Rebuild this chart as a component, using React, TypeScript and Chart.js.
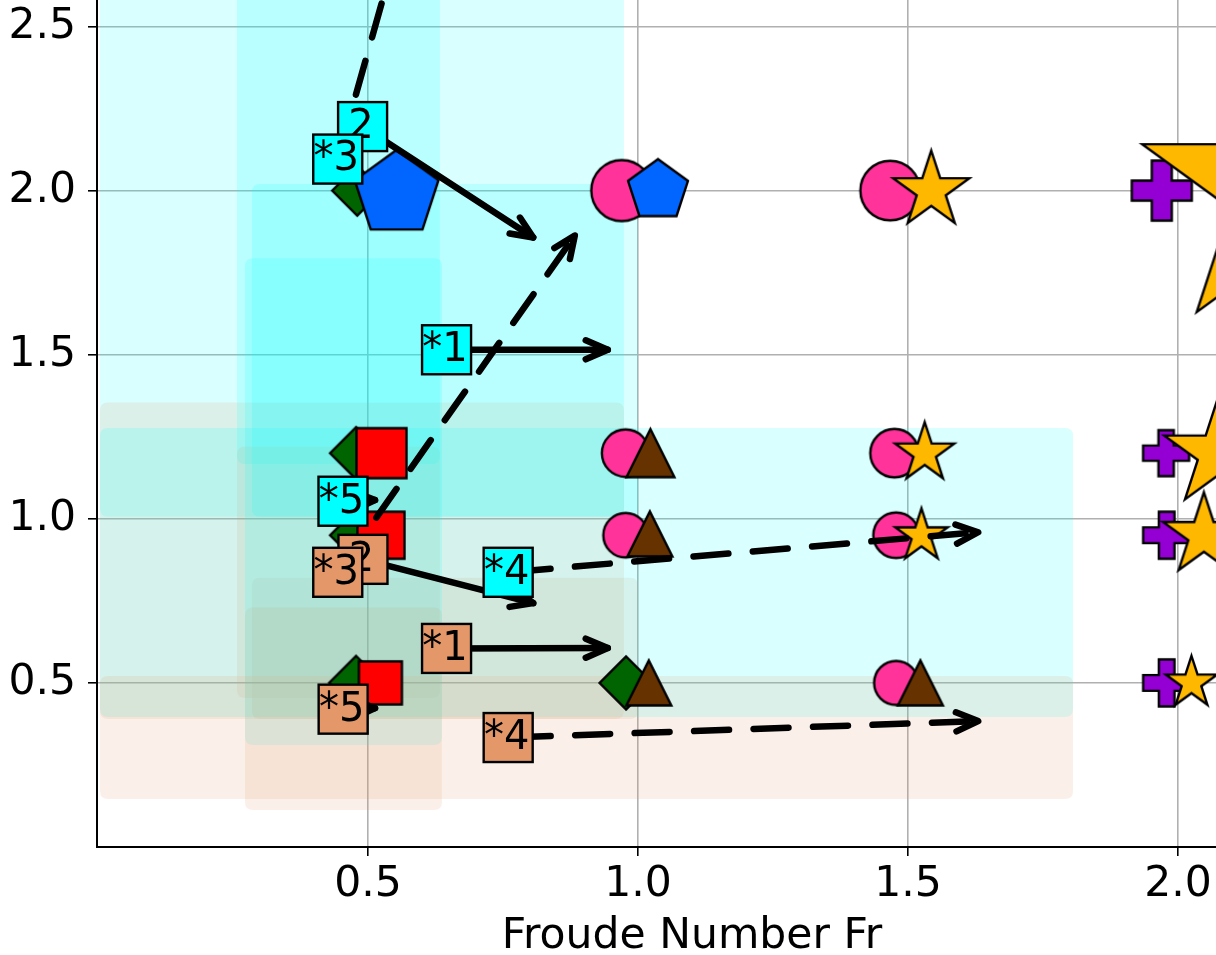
import React, { useEffect, useRef } from 'react';
import { Chart, registerables } from 'chart.js';

Chart.register(...registerables);

// ---------- axis ----------
const X_MIN = -0.00185;
const X_MAX = 2.0704;
const Y_MIN = 0;
const Y_MAX = 2.5807;
const xTicks = [0.5, 1.0, 1.5, 2.0];
const yTicks = [0.5, 1.0, 1.5, 2.0, 2.5];
const xTitle = 'Froude Number Fr';
const xTitleCenterValue = 1.1;

// ---------- markers ----------
const greenX = [0.48, 0.478, 0.478, 0.478, 0.978];
const greenY = [2.0, 1.2, 0.95, 0.5, 0.5];
const greenSize = [25, 26, 26, 27, 26.5];

const pinkX = [0.97, 0.977, 0.977, 1.467, 1.475, 1.478, 1.478];
const pinkY = [2.0, 1.2, 0.95, 2.0, 1.2, 0.95, 0.5];
const pinkSize = [30.5, 23.7, 22.3, 29.8, 24.2, 22.8, 22];

const purpleX = [1.97, 1.978, 1.979, 1.979];
const purpleY = [2.0, 1.2, 0.95, 0.5];
const purpleSize = [60, 46, 47, 47];

const redX = [0.525, 0.524, 0.523];
const redY = [1.2, 0.95, 0.5];
const redSize = [50, 47, 43];

const brownX = [1.023, 1.022, 1.02, 1.523];
const brownY = [1.2, 0.954, 0.5, 0.5];
const brownSize = [48, 45, 45, 45];

const blueX = [0.553, 1.037];
const blueY = [1.99, 2.0];
const blueSize = [44, 31.5];

const starX = [1.543, 1.531, 1.525, 2.198, 2.075, 2.048, 2.025];
const starY = [2.0, 1.2, 0.948, 2.0, 1.2, 0.95, 0.5];
const starSize = [40, 31, 27.5, 150, 57, 43, 27];

// ---------- annotation labels & arrows ----------
const labelText = ['2', '*3', '*1', '*5', '*4'];
const cyanLabelX = [0.49, 0.444, 0.6455, 0.4537, 0.7596];
const cyanLabelY = [2.195, 2.096, 1.515, 1.0535, 0.837];
const salmonLabelX = [0.4907, 0.444, 0.6455, 0.454, 0.7596];
const salmonLabelY = [0.8765, 0.837, 0.605, 0.42, 0.3335];
const targetX = [0.806, 0.883, 0.944, 0.513, 1.63];
const cyanTargetY = [1.857, 4.66, 1.515, 1.057, 0.959];
const salmonTargetY = [0.743, 1.863, 0.606, 0.423, 0.3837];
const arrowDashed = [false, true, false, false, true];

// ---------- shaded regions ----------
const rectX0 = [0.0037, 0.2574, 0.285, 0.2722, 0.0037];
const rectX1 = [0.974, 0.6333, 1.0, 0.637, 1.8056];
const cyanRectY0 = [1.006, 1.166, 1.006, 0.311, 0.396];
const cyanRectY1 = [3.35, 3.02, 2.02, 1.794, 1.277];
const salmonRectY0 = [0.39, 0.454, 0.39, 0.113, 0.146];
const salmonRectY1 = [1.354, 1.22, 0.82, 0.73, 0.521];

const CYAN = '#00ffff';
const SALMON = '#e4986a';
const CYAN_FILL = 'rgba(0,255,255,0.15)';
const SALMON_FILL = 'rgba(228,152,106,0.15)';
const FONT = "'DejaVu Sans'";
const FONT_SIZE = 42.5;
const LABEL_FONT_SIZE = 40;

type Shape = 'circle' | 'square' | 'diamond' | 'triangle' | 'pentagon' | 'star' | 'plus';

function markerCanvas(shape: Shape, size: number, fill: string): HTMLCanvasElement {
  const lw = 2.4;
  const full = shape === 'circle' || shape === 'diamond' || shape === 'pentagon' || shape === 'star';
  const half = full ? size : size / 2;
  const dim = Math.ceil(2 * half + 2 * lw + 6);
  const c = document.createElement('canvas');
  c.width = dim;
  c.height = dim;
  const g = c.getContext('2d')!;
  g.translate(dim / 2, dim / 2);
  g.beginPath();
  if (shape === 'circle') {
    g.arc(0, 0, size, 0, Math.PI * 2);
  } else if (shape === 'square') {
    g.rect(-half, -half, 2 * half, 2 * half);
  } else if (shape === 'diamond') {
    g.moveTo(0, -size); g.lineTo(size, 0); g.lineTo(0, size); g.lineTo(-size, 0); g.closePath();
  } else if (shape === 'triangle') {
    g.moveTo(0, -half); g.lineTo(half, half); g.lineTo(-half, half); g.closePath();
  } else if (shape === 'pentagon') {
    for (let k = 0; k < 5; k++) {
      const a = -Math.PI / 2 + (k * 2 * Math.PI) / 5;
      const px = size * Math.cos(a), py = size * Math.sin(a);
      if (k === 0) g.moveTo(px, py); else g.lineTo(px, py);
    }
    g.closePath();
  } else if (shape === 'star') {
    for (let k = 0; k < 10; k++) {
      const r = k % 2 ? size * 0.381966 : size;
      const a = -Math.PI / 2 + (k * Math.PI) / 5;
      const px = r * Math.cos(a), py = r * Math.sin(a);
      if (k === 0) g.moveTo(px, py); else g.lineTo(px, py);
    }
    g.closePath();
  } else {
    const t = half / 3;
    const pts = [[-t, -half], [t, -half], [t, -t], [half, -t], [half, t], [t, t], [t, half], [-t, half], [-t, t], [-half, t], [-half, -t], [-t, -t]];
    pts.forEach(([px, py], i) => (i === 0 ? g.moveTo(px, py) : g.lineTo(px, py)));
    g.closePath();
  }
  g.fillStyle = fill;
  g.fill();
  g.lineJoin = 'miter';
  g.lineWidth = lw;
  g.strokeStyle = '#000';
  g.stroke();
  return c;
}

function makeDataset(label: string, xs: number[], ys: number[], sizes: number[], shape: Shape, fill: string, order: number) {
  const imgs = sizes.map((s) => markerCanvas(shape, s, fill));
  return {
    label,
    type: 'scatter' as const,
    data: xs.map((x, i) => ({ x, y: ys[i] })),
    order,
    pointStyle: (ctx: any) => imgs[ctx.dataIndex ?? 0] || imgs[0],
    pointRadius: (ctx: any) => sizes[ctx.dataIndex ?? 0] ?? 10,
    pointHoverRadius: (ctx: any) => sizes[ctx.dataIndex ?? 0] ?? 10,
    borderWidth: 0,
    backgroundColor: fill,
  };
}

function roundRect(ctx: CanvasRenderingContext2D, x: number, y: number, w: number, h: number, r: number) {
  ctx.beginPath();
  ctx.moveTo(x + r, y);
  ctx.lineTo(x + w - r, y);
  ctx.quadraticCurveTo(x + w, y, x + w, y + r);
  ctx.lineTo(x + w, y + h - r);
  ctx.quadraticCurveTo(x + w, y + h, x + w - r, y + h);
  ctx.lineTo(x + r, y + h);
  ctx.quadraticCurveTo(x, y + h, x, y + h - r);
  ctx.lineTo(x, y + r);
  ctx.quadraticCurveTo(x, y, x + r, y);
  ctx.closePath();
}

function drawArrow(ctx: CanvasRenderingContext2D, x0: number, y0: number, x1: number, y1: number, dashed: boolean) {
  ctx.save();
  ctx.lineWidth = 6.5;
  ctx.strokeStyle = '#000';
  ctx.lineCap = 'round';
  ctx.lineJoin = 'round';
  if (dashed) {
    ctx.setLineDash([35, 24.5]);
    ctx.lineDashOffset = 52;
  }
  ctx.beginPath();
  ctx.moveTo(x0, y0);
  ctx.lineTo(x1, y1);
  ctx.stroke();
  ctx.setLineDash([]);
  const ang = Math.atan2(y1 - y0, x1 - x0);
  const back = 22, out = 9.5;
  const bx = x1 - back * Math.cos(ang), by = y1 - back * Math.sin(ang);
  const nx = -Math.sin(ang) * out, ny = Math.cos(ang) * out;
  ctx.beginPath();
  ctx.moveTo(bx + nx, by + ny);
  ctx.lineTo(x1, y1);
  ctx.lineTo(bx - nx, by - ny);
  ctx.stroke();
  ctx.restore();
}

const regionsPlugin = {
  id: 'regions',
  beforeDatasetsDraw(chart: any) {
    const { ctx, chartArea: a, scales } = chart;
    const xs = scales.x, ys = scales.y;
    ctx.save();
    ctx.beginPath();
    ctx.rect(a.left, a.top, a.right - a.left, a.bottom - a.top);
    ctx.clip();
    for (let i = 0; i < rectX0.length; i++) {
      const l = xs.getPixelForValue(rectX0[i]);
      const r = xs.getPixelForValue(rectX1[i]);
      const c0 = ys.getPixelForValue(cyanRectY1[i]);
      const c1 = ys.getPixelForValue(cyanRectY0[i]);
      ctx.fillStyle = CYAN_FILL;
      roundRect(ctx, l, c0, r - l, c1 - c0, 8);
      ctx.fill();
      const s0 = ys.getPixelForValue(salmonRectY1[i]);
      const s1 = ys.getPixelForValue(salmonRectY0[i]);
      ctx.fillStyle = SALMON_FILL;
      roundRect(ctx, l, s0, r - l, s1 - s0, 8);
      ctx.fill();
    }
    ctx.restore();
  },
};

const annotationPlugin = {
  id: 'annotations',
  afterDatasetsDraw(chart: any) {
    const { ctx, scales } = chart;
    const xs = scales.x, ys = scales.y;
    const sets = [
      { lx: cyanLabelX, ly: cyanLabelY, ty: cyanTargetY, color: CYAN },
      { lx: salmonLabelX, ly: salmonLabelY, ty: salmonTargetY, color: SALMON },
    ];
    sets.forEach((s) => {
      for (let i = 0; i < labelText.length; i++) {
        drawArrow(
          ctx,
          xs.getPixelForValue(s.lx[i]), ys.getPixelForValue(s.ly[i]),
          xs.getPixelForValue(targetX[i]), ys.getPixelForValue(s.ty[i]),
          arrowDashed[i]
        );
      }
    });
    const box = 49;
    sets.forEach((s) => {
      for (let i = 0; i < labelText.length; i++) {
        const px = xs.getPixelForValue(s.lx[i]);
        const py = ys.getPixelForValue(s.ly[i]);
        ctx.save();
        ctx.fillStyle = s.color;
        ctx.fillRect(px - box / 2, py - box / 2, box, box);
        ctx.lineWidth = 2.4;
        ctx.strokeStyle = '#000';
        ctx.strokeRect(px - box / 2, py - box / 2, box, box);
        ctx.fillStyle = '#000';
        ctx.font = `${LABEL_FONT_SIZE}px ${FONT}`;
        ctx.textAlign = 'center';
        ctx.textBaseline = 'middle';
        ctx.fillText(labelText[i], px - 1.5, py + 1);
        ctx.restore();
      }
    });
  },
  afterDraw(chart: any) {
    const { ctx, scales } = chart;
    ctx.save();
    ctx.fillStyle = '#000';
    ctx.font = `${FONT_SIZE}px ${FONT}`;
    ctx.textAlign = 'center';
    ctx.textBaseline = 'middle';
    ctx.fillText(xTitle, scales.x.getPixelForValue(xTitleCenterValue), chart.height - 18);
    ctx.restore();
  },
};

function zeroPad(s: any) {
  s.paddingTop = 0;
  s.paddingBottom = 0;
  s.paddingLeft = 0;
  s.paddingRight = 0;
}

export default function App() {
  const ref = useRef<HTMLCanvasElement>(null);
  useEffect(() => {
    document.body.style.margin = '0';
    Chart.defaults.font.family = FONT;
    Chart.defaults.font.size = FONT_SIZE;
    const datasets = [
      makeDataset('green', greenX, greenY, greenSize, 'diamond', '#006400', 7),
      makeDataset('pink', pinkX, pinkY, pinkSize, 'circle', '#ff3399', 6),
      makeDataset('purple', purpleX, purpleY, purpleSize, 'plus', '#9400d3', 5),
      makeDataset('red', redX, redY, redSize, 'square', '#ff0000', 4),
      makeDataset('brown', brownX, brownY, brownSize, 'triangle', '#663300', 3),
      makeDataset('blue', blueX, blueY, blueSize, 'pentagon', '#0066ff', 2),
      makeDataset('star', starX, starY, starSize, 'star', '#ffb800', 1),
    ];
    const chart = new Chart(ref.current!, {
      type: 'scatter',
      data: { datasets: datasets as any },
      options: {
        animation: false,
        responsive: true,
        maintainAspectRatio: false,
        devicePixelRatio: 1,
        events: [],
        layout: { padding: 0, autoPadding: false } as any,
        plugins: { legend: { display: false }, tooltip: { enabled: false }, title: { display: false } },
        scales: {
          x: {
            type: 'linear',
            min: X_MIN,
            max: X_MAX,
            afterBuildTicks: (s: any) => { s.ticks = xTicks.map((v) => ({ value: v })); },
            afterFit: (s: any) => { s.height = 108; zeroPad(s); },
            grid: { color: '#b0b0b0', lineWidth: 1.6, tickColor: '#000', tickLength: 9, tickWidth: 1.6 } as any,
            border: { color: '#000', width: 2 },
            ticks: { color: '#000', font: { size: FONT_SIZE, family: FONT }, padding: 3, maxRotation: 0, autoSkip: false, callback: (v: any) => Number(v).toFixed(1) },
          },
          y: {
            type: 'linear',
            min: Y_MIN,
            max: Y_MAX,
            afterBuildTicks: (s: any) => { s.ticks = yTicks.map((v) => ({ value: v })); },
            afterFit: (s: any) => { s.width = 97; zeroPad(s); },
            grid: { color: '#b0b0b0', lineWidth: 1.6, tickColor: '#000', tickLength: 9, tickWidth: 1.6 } as any,
            border: { color: '#000', width: 2 },
            ticks: { color: '#000', font: { size: FONT_SIZE, family: FONT }, padding: 12, autoSkip: false, callback: (v: any) => Number(v).toFixed(1) },
          },
        },
      },
      plugins: [regionsPlugin, annotationPlugin],
    });
    return () => chart.destroy();
  }, []);
  return (
    <div style={{ position: 'absolute', left: 0, top: 0, width: 1216, height: 955 }}>
      <canvas ref={ref} />
    </div>
  );
}
